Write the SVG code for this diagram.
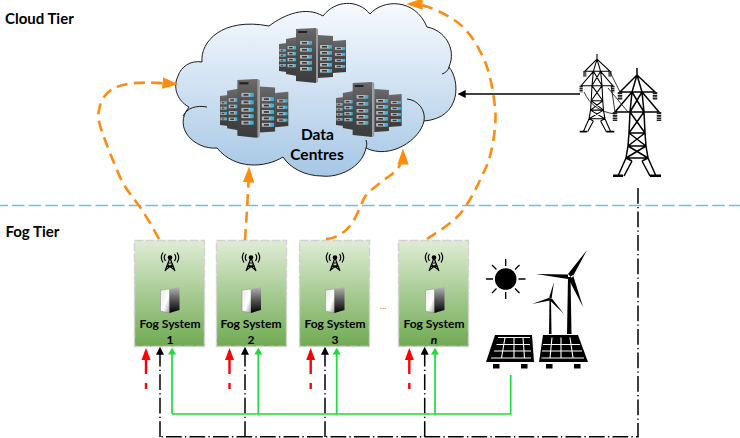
<svg xmlns="http://www.w3.org/2000/svg" width="740" height="438" viewBox="0 0 740 438">
<style>
text{font-family:"Lato","Liberation Sans",sans-serif;font-weight:700;fill:#000}
.tier{font-size:15px}
.fog{font-size:12px;text-anchor:middle}
.dc{font-size:15.500px;text-anchor:middle}
.box{fill:url(#boxFill);stroke:#d2d2d2;stroke-width:1.4;stroke-dasharray:9 2}
.org{fill:none;stroke:#ff8c0e;stroke-width:2.6;stroke-dasharray:11 6.5;marker-end:url(#hOrg)}
.red{fill:none;stroke:#ff0000;stroke-width:2.4;stroke-dasharray:6 9 50;marker-end:url(#hRed)}
.blk{fill:none;stroke:#000;stroke-width:1.5;stroke-dasharray:15.700 3.200 1.400 3.200}
.grn{fill:none;stroke:#1fdc3a;stroke-width:1.700}
.t{fill:none;stroke:#000}
</style>
<defs>
<linearGradient id="boxFill" x1="0" y1="0" x2="0" y2="1"><stop offset="0" stop-color="#dfecd5"/><stop offset="1" stop-color="#70aa52"/></linearGradient>
<linearGradient id="cloudFill" x1="0" y1="0" x2="0" y2="1"><stop offset="0" stop-color="#f7fafe"/><stop offset="1" stop-color="#a6c7e5"/></linearGradient>
<linearGradient id="rackFill" x1="0" y1="0" x2="0" y2="1"><stop offset="0" stop-color="#6a6a6a"/><stop offset=".5" stop-color="#4a4a4a"/><stop offset="1" stop-color="#3c3c3c"/></linearGradient>
<linearGradient id="srvFront" x1="0" y1="0" x2="1" y2="1"><stop offset="0" stop-color="#e8e8e8"/><stop offset=".6" stop-color="#fff"/><stop offset="1" stop-color="#999"/></linearGradient>
<linearGradient id="srvSide" x1="0" y1="0" x2="0" y2="1"><stop offset="0" stop-color="#b5b5b5"/><stop offset=".5" stop-color="#555"/><stop offset="1" stop-color="#000"/></linearGradient>
<marker id="hOrg" markerUnits="userSpaceOnUse" markerWidth="16" markerHeight="12" viewBox="0 0 14 10" refX="11" refY="5" orient="auto"><path d="M0 0L14 5L0 10z" fill="#ff8c0e"/></marker>
<marker id="hRed" markerUnits="userSpaceOnUse" markerWidth="12" markerHeight="10" viewBox="0 0 12 9" refX="9" refY="4.500" orient="auto"><path d="M0 0L12 4.500L0 9z" fill="#ff0000"/></marker>
<marker id="hBlk" markerUnits="userSpaceOnUse" markerWidth="8" markerHeight="8" viewBox="0 0 7 7" refX="5" refY="3.500" orient="auto"><path d="M0 0L7 3.500L0 7z" fill="#000"/></marker>
<marker id="hGrn" markerUnits="userSpaceOnUse" markerWidth="8" markerHeight="8" viewBox="0 0 6 7" refX="4" refY="3.500" orient="auto"><path d="M0 0L6 3.500L0 7z" fill="#1fdc3a"/></marker>
<g id="slot"><rect width="10" height="3.600" fill="#b4b8bc"/><rect x="2" y="1" width="5" height="1.600" fill="#3a3a3a"/><rect x="8.500" width="3.500" height="3.600" fill="#37b4de"/></g>
<g id="racks">
<path d="M0 16L8 15V44L0 43z" fill="url(#rackFill)"/>
<use href="#slot" transform="translate(.5 21) scale(.55 .7)"/><use href="#slot" transform="translate(.5 26) scale(.55 .7)"/><use href="#slot" transform="translate(.5 31) scale(.55 .7)"/><use href="#slot" transform="translate(.5 36) scale(.55 .7)"/>
<path d="M54 13L67 12V44L54 45z" fill="url(#rackFill)"/>
<use href="#slot" transform="translate(56 19) scale(.85 .8)"/><use href="#slot" transform="translate(56 25) scale(.85 .8)"/><use href="#slot" transform="translate(56 31) scale(.85 .8)"/><use href="#slot" transform="translate(56 37) scale(.85 .8)"/>
<path d="M7 11L18 9V48L7 46z" fill="url(#rackFill)"/>
<use href="#slot" transform="translate(8.500 18) scale(.75 .9)"/><use href="#slot" transform="translate(8.500 24) scale(.75 .9)"/><use href="#slot" transform="translate(8.500 30) scale(.75 .9)"/><use href="#slot" transform="translate(8.500 36) scale(.75 .9)"/>
<path d="M39 7L54 8V49L39 50z" fill="url(#rackFill)"/>
<use href="#slot" transform="translate(41 17)"/><use href="#slot" transform="translate(41 23)"/><use href="#slot" transform="translate(41 29)"/><use href="#slot" transform="translate(41 35)"/><use href="#slot" transform="translate(41 41)"/>
<path d="M17 1L37 0V55L17 53z" fill="url(#rackFill)"/>
<path d="M37 0L39 1V54L37 55z" fill="#9a9a9a"/>
<rect x="19" y="3" width="9" height="2" fill="#222"/>
<use href="#slot" transform="translate(21 13)"/><use href="#slot" transform="translate(21 20)"/><use href="#slot" transform="translate(21 27)"/><use href="#slot" transform="translate(21 33)"/><use href="#slot" transform="translate(21 39)"/>
</g>
<g id="antenna">
<path class="t" stroke-width="1.200" d="M0 -4L-5 9M0 -4L5 9M-3.400 4.500H3.400M-2 1H2M-4.500 8L2.500 2.500M4.500 8L-2.500 2.500"/>
<circle cy="-4.500" r="2.300" fill="#000"/>
<path class="t" stroke-width="1.200" d="M-4.500 -8A6 6 0 0 0 -4.500 -1M4.500 -8A6 6 0 0 1 4.500 -1M-7 -9.500A9 9 0 0 0 -7 .5M7 -9.500A9 9 0 0 1 7 .5"/>
</g>
<g id="server">
<path d="M0 3L9 2V26L0 24z" fill="url(#srvFront)" stroke="#777" stroke-width=".4"/>
<path d="M9 2L19 0V23L9 26z" fill="url(#srvSide)"/>
</g>
<g id="pylon">
<path class="t" d="M0 0V7M0 7L-17 24H18L0 7M0 7L-5 24M0 7L5 24M-5 24L-22 44H22L5 24M-5 24L-7 44M5 24L7 44M-5 24L7 44M5 24L-7 44M-7 44L-8 65M7 44L8 65M-7 44L8 65M7 44L-8 65M-8 65H8M-8 65L-9 78H9L8 65M-8 65L9 78M8 65L-9 78M-9 78L-11 90H11L9 78M-9 78L11 90M9 78L-11 90M-11 90L-19 108M11 90L19 108M-5 93L-13 108M5 93L13 108M-11 90L-5 93M11 90L5 93"/>
<path d="M-24 109h10v-2.500h-10zM13 109h11v-2.500h-11z" fill="#000"/>
<path d="M-17 24v8M18 24v8M-22 44v9M22 44v9" stroke="#222" stroke-width="4.500" stroke-dasharray="2 .7" fill="none"/>
</g>
</defs>

<g id="cloud">
<path d="M189 107C176 100 173 86 178 76C181 67 190 60 202 62C200 42 222 17 269 26C285 14 306 6 323 16C335 0 358 -1 370 14C383 -1 415 -2 427 27C444 30 457 48 449 67C460 80 462 118 424 121C420 140 390 160 366 148C362 168 338 178 322 176C305 176 290 168 283 157C265 168 235 170 217 148C195 150 172 128 189 107Z" fill="url(#cloudFill)" stroke="#1c1c1c" stroke-width="1"/>
<path d="M207 107C196 105 187 108 183 116M407 99C418 100 426 110 424 121M449 67C448 71 445 73 442 74M366 148C367 145 367 143 366 140" fill="none" stroke="#1c1c1c" stroke-width="1"/>
<use href="#racks" transform="translate(279 28)"/>
<use href="#racks" transform="translate(220 79) scale(1.02 1.07)"/>
<use href="#racks" transform="translate(336 82) scale(.98 1)"/>
<text class="dc" x="317.500" y="140">Data</text>
<text class="dc" x="317" y="160">Centres</text>
</g>

<g id="tier-labels">
<text class="tier" x="5" y="23.500">Cloud Tier</text>
<text class="tier" x="5.500" y="236.500">Fog Tier</text>
</g>
<path id="tier-divider" d="M-4.600 205.500H740" fill="none" stroke="#5cc6ec" stroke-width="1.400" stroke-dasharray="12.500 4.170"/>

<g id="fog-1"><rect class="box" x="134.500" y="240.500" width="70" height="106"/><use href="#antenna" x="170" y="262"/><use href="#server" x="160.500" y="287"/><text class="fog" x="170" y="328">Fog System</text><text class="fog" x="170" y="344">1</text></g>
<g id="fog-2"><rect class="box" x="216.500" y="240.500" width="70" height="106"/><use href="#antenna" x="251" y="262"/><use href="#server" x="242" y="287"/><text class="fog" x="251" y="328">Fog System</text><text class="fog" x="251" y="344">2</text></g>
<g id="fog-3"><rect class="box" x="299.500" y="240.500" width="70" height="106"/><use href="#antenna" x="335" y="262"/><use href="#server" x="325.500" y="287"/><text class="fog" x="335" y="328">Fog System</text><text class="fog" x="335" y="344">3</text></g>
<g id="fog-n"><rect class="box" x="398.500" y="240.500" width="70" height="106"/><use href="#antenna" x="434" y="262"/><use href="#server" x="425.500" y="287"/><text class="fog" x="434" y="328">Fog System</text><text class="fog" x="434" y="344" font-style="italic">n</text></g>
<text id="ellipsis" x="383" y="309" font-size="8" text-anchor="middle" style="font-family:'Liberation Sans',sans-serif;font-weight:400;fill:#333">...</text>

<g id="pylons">
<use id="pylon-back" href="#pylon" transform="translate(597 54) scale(.72)" stroke-width="1.500"/>
<path id="pylon-wires" class="t" stroke-width=".8" d="M610 72L620 92M611 85L615 112M584 92C590 105 600 112 615 114M608 88L628 112"/>
<use id="pylon-front" href="#pylon" transform="translate(637 68)" stroke-width="1.500"/>
</g>

<g id="renewables">
<g id="sun">
<circle cx="505.700" cy="279" r="10.800" fill="#000"/>
<path d="M505.700 259v7M505.700 292v7M486 279h7M518.500 279h7M492 265l4.500 4.500M515 288.500l4.500 4.500M519.500 265L515 269.500M496.500 288.500L492 293" stroke="#000" stroke-width="1.300" fill="none"/>
</g>
<g id="turbine-big">
<path d="M567 334L568 277H570.500L571.500 334z" fill="#000"/>
<path d="M568 274L587 250L572 278zM568 279L536 274L568 274.500zM568 278L583 307L573 275z" fill="#000"/>
</g>
<g id="turbine-small">
<path d="M549 334L549.500 299H551L551.500 334z" fill="#000"/>
<path d="M549 298L554 282L551.500 299zM550 297.500L532 304L550 300.500zM549.500 300L564 314L551.500 298z" fill="#000"/>
</g>
<g id="panel-left">
<path d="M495 335H532L534 362H486z" fill="#000"/>
<path d="M505 337.500L501.500 358M514 337.500V358M523 337.500L524.500 358M496.500 344.500H530M494 351H531M491 358H531M498 337.500H530" stroke="#fff" stroke-width="1.100" fill="none"/>
<rect x="493" y="364" width="6.500" height="4.500" fill="#000"/><rect x="521" y="364" width="6.500" height="4.500" fill="#000"/>
</g>
<g id="panel-right">
<path d="M543 335H578L588 362H539z" fill="#000"/>
<path d="M552 337.500L550 358M561 337.500V358M570 337.500L573 358M543 344.500H580M542 351H582M541.500 358H584" stroke="#fff" stroke-width="1.100" fill="none"/>
<rect x="546" y="364" width="6.500" height="4.500" fill="#000"/><rect x="574" y="364" width="6.500" height="4.500" fill="#000"/>
</g>
</g>

<g id="connectors">
<path class="org" d="M159 239C152 226 146 216 140 207C132 196 124 187 120 177C114 163 109 151 105 140C100 127 97 118 99 110C101 96 110 88 123 85C135 82 150 82 175 84"/>
<path class="org" d="M245 240C246 225 248 195 249 170"/>
<path class="org" d="M326 239C340 238 350 228 355 218C359 210 361 206 362 203C364 197 366 195 369 192C376 186 384 180 388 177C396 172 403 165 403 152"/>
<path class="org" d="M427 239C437 232 448 226 457 217C470 204 480 180 487 165C493 150 497 122 495 107C493 90 490 72 483 57C477 45 472 36 463 27C455 19 440 11 428 7C422 5 416 4 410 4"/>
<path d="M580 94H460" fill="none" stroke="#000" stroke-width="1.500" marker-end="url(#hBlk)"/>
<path class="red" d="M146 389V351"/><path class="red" d="M229.500 389V351"/><path class="red" d="M310.700 389V351"/><path class="red" d="M409.300 389V351"/>
<g>
<path class="blk" d="M160 437V349" marker-end="url(#hBlk)"/>
<path class="blk" d="M245 437V349" marker-end="url(#hBlk)"/>
<path class="blk" d="M325 437V349" marker-end="url(#hBlk)"/>
<path class="blk" d="M424.700 437V349" marker-end="url(#hBlk)"/>
<path class="blk" d="M638 188V436.700H160"/>
</g>
<g>
<path class="grn" d="M172 414V350" marker-end="url(#hGrn)"/>
<path class="grn" d="M258.300 414V350" marker-end="url(#hGrn)"/>
<path class="grn" d="M336.700 414V350" marker-end="url(#hGrn)"/>
<path class="grn" d="M435 414V350" marker-end="url(#hGrn)"/>
<path class="grn" d="M172 414H510.700V375"/>
</g>
</g>
</svg>
